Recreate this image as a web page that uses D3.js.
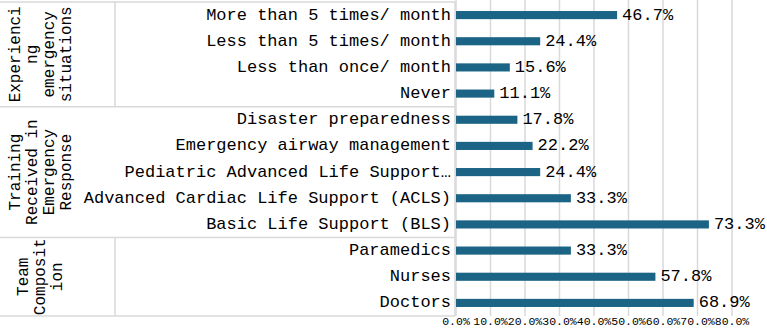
<!DOCTYPE html>
<meta charset='utf-8'>
<head>
  <title>Emergency experience</title>
</head>

<style>
body {
  margin: 0;
  background: #fff;
}

text {
  font-family: "Liberation Mono", "DejaVu Sans Mono", monospace;
  fill: #000;
}

.grid line {
  stroke: #d9d9d9;
  stroke-width: 1.5;
}

.sep {
  stroke: #d9d9d9;
  stroke-width: 1.5;
}

.bar {
  fill: #1b6485;
}

.cat { font-size: 17px; }
.val { font-size: 17px; }
.tick { font-size: 11.5px; }
.group { font-size: 16px; }
</style>

<body>
  <svg width='767' height='334'></svg>

  <script src='https://cdn.jsdelivr.net/npm/d3@7/dist/d3.min.js'></script>
  <script>
// categories, top to bottom
var categories = [
  'More than 5 times/ month',
  'Less than 5 times/ month',
  'Less than once/ month',
  'Never',
  'Disaster preparedness',
  'Emergency airway management',
  'Pediatric Advanced Life Support…',
  'Advanced Cardiac Life Support (ACLS)',
  'Basic Life Support (BLS)',
  'Paramedics',
  'Nurses',
  'Doctors'
];
var values = [46.7, 24.4, 15.6, 11.1, 17.8, 22.2, 24.4, 33.3, 73.3, 33.3, 57.8, 68.9];

// group labels, already wrapped as in the picture
var groups = [
  {lines: ['Experienci', 'ng', 'emergency', 'situations'], first: 0, last: 3, divider: true},
  {lines: ['Training', 'Received in', 'Emergency', 'Response'], first: 4, last: 8, divider: false},
  {lines: ['Team', 'Composit', 'ion'], first: 9, last: 11, divider: true}
];

var ticks = [0, 10, 20, 30, 40, 50, 60, 70, 80];

var svg = d3.select('svg');
var plotLeft = 456, plotRight = 732, plotTop = 2, plotBottom = 316;

var x = d3.scaleLinear().domain([0, 80]).range([plotLeft, plotRight]);
var y = d3.scaleBand().domain(categories).range([plotTop, plotBottom]).paddingInner(0.69).paddingOuter(0.345);
var row = d3.scaleBand().domain(categories).range([plotTop, plotBottom]);

// vertical gridlines
svg.append('g').attr('class', 'grid')
  .selectAll('line')
  .data(ticks)
  .enter()
  .append('line')
  .attr('x1', function(d) { return x(d); })
  .attr('x2', function(d) { return x(d); })
  .attr('y1', 0)
  .attr('y2', plotBottom);

// tick labels
svg.append('g')
  .selectAll('text')
  .data(ticks)
  .enter()
  .append('text')
  .attr('class', 'tick')
  .attr('x', function(d) { return x(d); })
  .attr('y', 325)
  .attr('text-anchor', 'middle')
  .text(function(d) { return d.toFixed(1) + '%'; });

// category axis frame
var frame = svg.append('g');
frame.append('line').attr('class', 'sep')
  .attr('x1', plotLeft - 1).attr('x2', plotLeft - 1).attr('y1', plotTop).attr('y2', plotBottom);

var bounds = [plotTop, row(categories[4]), row(categories[9]), plotBottom];
frame.selectAll('line.h')
  .data(bounds)
  .enter()
  .append('line')
  .attr('class', 'sep h')
  .attr('x1', 0).attr('x2', plotLeft - 1)
  .attr('y1', function(d) { return d; })
  .attr('y2', function(d) { return d; });

frame.selectAll('line.v')
  .data(groups.filter(function(g) { return g.divider; }))
  .enter()
  .append('line')
  .attr('class', 'sep v')
  .attr('x1', 115).attr('x2', 115)
  .attr('y1', function(g) { return row(categories[g.first]); })
  .attr('y2', function(g) { return row(categories[g.last]) + row.bandwidth(); });

// group labels
groups.forEach(function(g) {
  var cy = (row(categories[g.first]) + row(categories[g.last]) + row.bandwidth()) / 2;
  var lh = 17;
  var t = svg.append('text')
    .attr('class', 'group')
    .attr('text-anchor', 'middle')
    .attr('transform', 'translate(' + 41 + ',' + cy + ') rotate(-90)');
  g.lines.forEach(function(l, i) {
    t.append('tspan')
      .attr('x', 0)
      .attr('y', (i - (g.lines.length - 1) / 2) * lh)
      .attr('dominant-baseline', 'central')
      .text(l);
  });
});

// category labels
svg.append('g')
  .selectAll('text')
  .data(categories)
  .enter()
  .append('text')
  .attr('class', 'cat')
  .attr('x', plotLeft - 5)
  .attr('y', function(d) { return row(d) + row.bandwidth() / 2; })
  .attr('text-anchor', 'end')
  .attr('dominant-baseline', 'central')
  .text(function(d) { return d; });

// bars
svg.append('g')
  .selectAll('rect')
  .data(values)
  .enter()
  .append('rect')
  .attr('class', 'bar')
  .attr('x', x(0))
  .attr('y', function(d, i) { return y(categories[i]); })
  .attr('width', function(d) { return x(d) - x(0); })
  .attr('height', y.bandwidth());

// value labels
svg.append('g')
  .selectAll('text')
  .data(values)
  .enter()
  .append('text')
  .attr('class', 'val')
  .attr('x', function(d) { return x(d) + 5; })
  .attr('y', function(d, i) { return row(categories[i]) + row.bandwidth() / 2; })
  .attr('dominant-baseline', 'central')
  .text(function(d) { return d.toFixed(1) + '%'; });
  </script>
</body>
</html>
